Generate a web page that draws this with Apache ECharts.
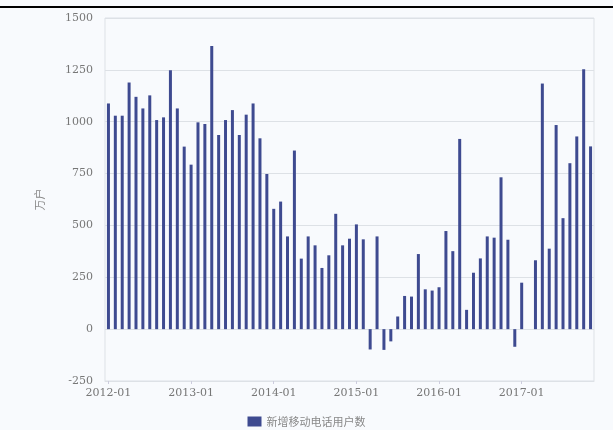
<!DOCTYPE html>
<html>
<head>
<meta charset="utf-8">
<script src="https://cdn.jsdelivr.net/npm/echarts@6/dist/echarts.min.js"></script>
<style>
  html, body { margin: 0; padding: 0; background: #f8fafd; }
  #chart { width: 613px; height: 430px; }
</style>
</head>
<body>
<div id="chart"></div>
<script>
// Monthly categories, 2012-01 .. 2017-11
const months = [];
for (let y = 2012; y <= 2017; y++) {
  for (let m = 1; m <= 12; m++) {
    if (y === 2017 && m > 11) break;
    months.push(y + '-' + (m < 10 ? '0' + m : m));
  }
}

// 新增移动电话用户数 (万户); 2017-02 not reported separately
const newMobileUsers = [
  1088, 1029, 1029, 1189, 1120, 1064, 1127, 1008, 1021, 1248, 1064, 880,
  793, 997, 989, 1365, 936, 1008, 1056, 936, 1034, 1088, 920, 748,
  580, 615, 447, 861, 340, 447, 404, 295, 356, 556, 404, 436,
  505, 433, -98, 447, -100, -59, 61, 160, 157, 362, 192, 186,
  202, 473, 376, 917, 93, 272, 341, 447, 441, 732, 431, -85,
  224, null, 332, 1184, 388, 984, 535, 800, 929, 1253, 881
];

const yTicks = { min: -250, max: 1500, step: 250 };
const seriesName = '新增移动电话用户数';
const unitName = '万户';

const chart = echarts.init(document.getElementById('chart'));
chart.setOption({
  backgroundColor: '#f8fafd',
  animation: false,
  graphic: [{
    type: 'line',
    shape: { x1: 0, y1: 7, x2: 613, y2: 7 },
    style: { stroke: '#000', lineWidth: 2 }
  }],
  grid: {
    left: 105, right: 19, top: 18, bottom: 49,
    show: true, borderColor: '#dde1e6', borderWidth: 1, backgroundColor: 'transparent'
  },
  legend: {
    bottom: -2,
    left: 'center',
    itemWidth: 14, itemHeight: 10,
    icon: 'rect',
    textStyle: { color: '#888', fontSize: 11, fontFamily: 'Noto Sans CJK SC' },
    data: [seriesName]
  },
  xAxis: {
    type: 'category',
    data: months,
    axisLine: { onZero: false, lineStyle: { color: '#dde1e6' } },
    axisTick: { show: true, interval: 11, alignWithLabel: true, length: 3, lineStyle: { color: '#ccd' } },
    axisLabel: { interval: 11, color: '#777', fontSize: 11, margin: 7, fontFamily: 'DejaVu Serif' },
    splitLine: { show: false }
  },
  yAxis: {
    type: 'value',
    min: yTicks.min, max: yTicks.max, interval: yTicks.step,
    name: unitName,
    nameLocation: 'middle',
    nameGap: 60,
    nameTextStyle: { color: '#888', fontSize: 11, fontFamily: 'Noto Sans CJK SC' },
    axisLine: { show: false },
    axisTick: { show: false },
    axisLabel: {
      color: '#777', fontSize: 11, margin: 12, fontFamily: 'DejaVu Serif',
      formatter: function (v) { return String(v); }
    },
    splitLine: { lineStyle: { color: '#dde1e6', width: 1 } }
  },
  series: [{
    name: seriesName,
    type: 'bar',
    data: newMobileUsers,
    barWidth: 3,
    itemStyle: { color: '#3e4a90' }
  }]
});
</script>
</body>
</html>
